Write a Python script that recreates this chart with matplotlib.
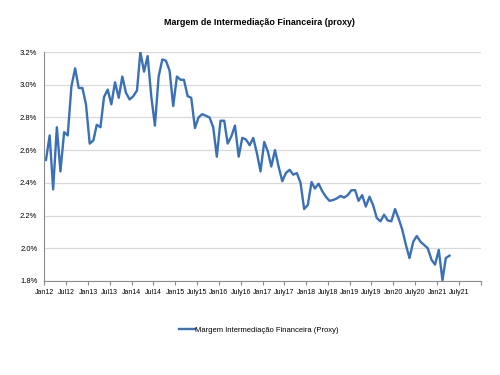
import pandas as pd
import matplotlib
matplotlib.use("Agg")
import matplotlib.pyplot as plt
import matplotlib.dates as mdates
from matplotlib.ticker import FuncFormatter

# monthly series, Jan 2012 .. Apr 2021 (% p.a.)
START = "2012-01-01"
margem = [
    2.54, 2.69, 2.36, 2.74, 2.47, 2.71, 2.69, 2.99, 3.10, 2.98, 2.98, 2.88,
    2.64, 2.66, 2.755, 2.74, 2.925, 2.97, 2.88, 3.015, 2.92, 3.05, 2.95, 2.91,
    2.93, 2.965, 3.20, 3.08, 3.175, 2.925, 2.75, 3.05, 3.155, 3.147, 3.085, 2.87,
    3.05, 3.03, 3.03, 2.93, 2.92, 2.735, 2.80, 2.82, 2.81, 2.80, 2.74, 2.56,
    2.78, 2.78, 2.64, 2.685, 2.75, 2.56, 2.675, 2.665, 2.63, 2.675, 2.58, 2.47,
    2.65, 2.59, 2.50, 2.60, 2.50, 2.41, 2.46, 2.48, 2.45, 2.46, 2.40, 2.24,
    2.265, 2.405, 2.365, 2.395, 2.35, 2.315, 2.29, 2.295, 2.305, 2.32, 2.31, 2.325,
    2.355, 2.355, 2.29, 2.325, 2.255, 2.315, 2.265, 2.185, 2.165, 2.205, 2.17, 2.165,
    2.24, 2.18, 2.115, 2.02, 1.94, 2.04, 2.075, 2.04, 2.02, 2.00, 1.93, 1.90,
    1.99, 1.805, 1.94, 1.955,
]
tick_labels = ["Jan12", "Jul12", "Jan13", "Jul13", "Jan14", "Jul14", "Jan15",
               "July15", "Jan16", "July16", "Jan17", "July17", "Jan18", "July18",
               "Jan19", "July19", "Jan20", "July20", "Jan21", "July21", ""]
y_ticks = [1.8, 2.0, 2.2, 2.4, 2.6, 2.8, 3.0, 3.2]

plt.rcParams["font.family"] = ["Liberation Sans", "DejaVu Sans"]

BLUE = "#3a70b6"
dates = pd.date_range(START, periods=len(margem), freq="MS") + pd.Timedelta(days=14)
tick_dates = pd.date_range(START, periods=len(tick_labels), freq="6MS")

fig = plt.figure(figsize=(5, 3.75), dpi=100)
ax = fig.add_axes([0.0886, 0.2507, 0.8728, 0.6106])

ax.plot(dates, margem, color=BLUE, lw=1.7, label="Margem Intermediação Financeira (Proxy)")

ax.set_xlim(pd.Timestamp("2012-01-01"), pd.Timestamp("2022-01-01"))
ax.set_ylim(1.8, 3.2)
ax.set_yticks(y_ticks)
ax.yaxis.set_major_formatter(FuncFormatter(lambda v, p: f"{v:.1f}%"))
ax.set_xticks(mdates.date2num(tick_dates))
ax.set_xticklabels(tick_labels)

ax.grid(axis="y", color="#d9d9d9", lw=0.9)
ax.set_axisbelow(True)
for s in ("top", "right"):
    ax.spines[s].set_visible(False)
for s in ("left", "bottom"):
    ax.spines[s].set_color("#8c8c8c")
    ax.spines[s].set_linewidth(0.8)
ax.tick_params(axis="x", length=3, color="#8c8c8c", labelsize=5, pad=3)
ax.tick_params(axis="y", length=0, labelsize=5.5, pad=5)

fig.text(0.518, 0.94, "Margem de Intermediação Financeira (proxy)",
         ha="center", va="center", fontsize=6.4, fontweight="bold")

fig.legend(loc="center", bbox_to_anchor=(0.518, 0.12), frameon=False,
           fontsize=5.5, handlelength=2.0, handletextpad=0.1)

fig.savefig("out.png", dpi=100)
